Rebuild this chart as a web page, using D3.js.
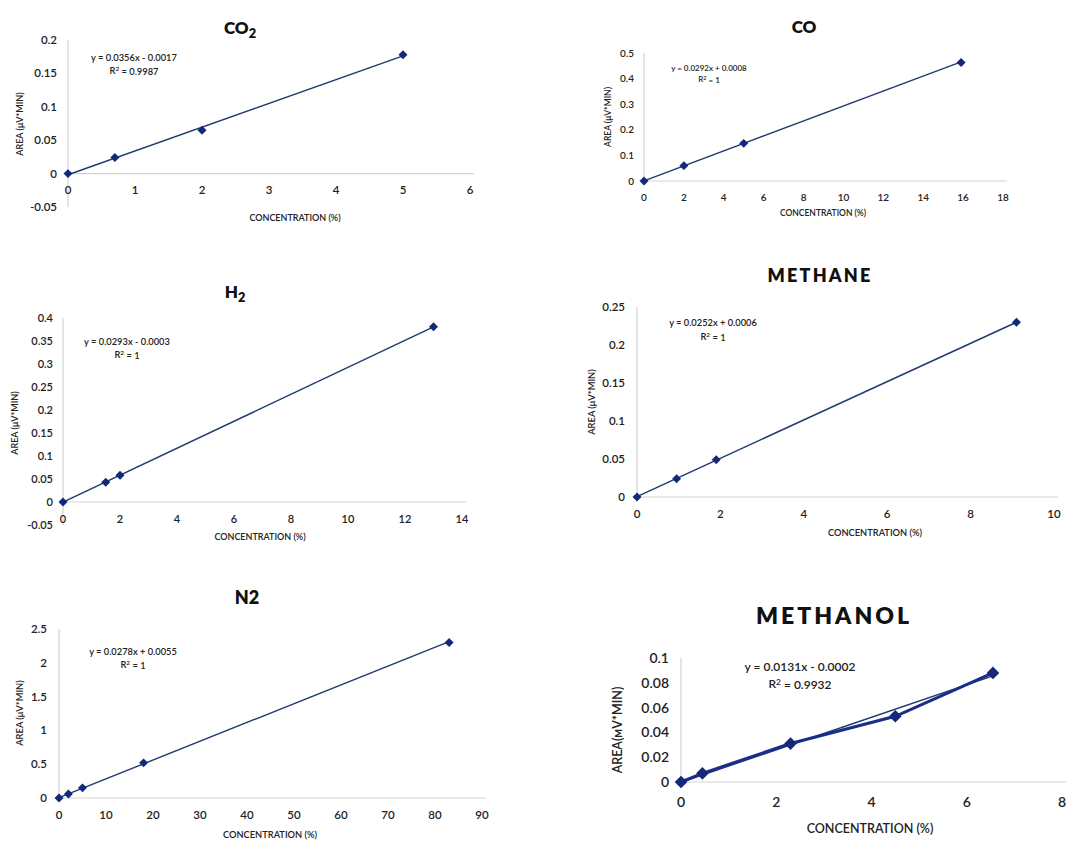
<!DOCTYPE html>
<html><head><meta charset="utf-8">
<script src="https://cdn.jsdelivr.net/npm/d3@7"></script>
<style>body{margin:0;background:#fff}text{font-family:Lato,"Liberation Sans",sans-serif;fill:#222}</style>
</head><body><svg id="c" width="1068" height="842"></svg>
<script>
// ---- data ----
const co2X = [0, 0.7, 2, 5];
const co2Y = [0, 0.024, 0.065, 0.178];
const coX = [0, 2, 5, 15.9];
const coY = [0, 0.06, 0.147, 0.463];
const h2X = [0, 1.5, 2, 13];
const h2Y = [0, 0.043, 0.058, 0.381];
const ch4X = [0, 0.95, 1.9, 9.1];
const ch4Y = [0, 0.024, 0.049, 0.23];
const n2X = [0, 2, 5, 18, 83];
const n2Y = [0, 0.06, 0.15, 0.52, 2.3];
const meohX = [0, 0.45, 2.3, 4.5, 6.55];
const meohY = [0, 0.007, 0.031, 0.053, 0.088];
// trend-line coefficients [slope, intercept]
const co2Fit = [0.0356, -0.0017], coFit = [0.0292, 0.0008], h2Fit = [0.0293, -0.0003];
const ch4Fit = [0.0252, 0.0006], n2Fit = [0.0278, 0.0055], meohFit = [0.0131, -0.0002];
const co2Eq = ["y = 0.0356x - 0.0017", "0.9987"];
const coEq = ["y = 0.0292x + 0.0008", "1"];
const h2Eq = ["y = 0.0293x - 0.0003", "1"];
const ch4Eq = ["y = 0.0252x + 0.0006", "1"];
const n2Eq = ["y = 0.0278x + 0.0055", "1"];
const meohEq = ["y = 0.0131x - 0.0002", "0.9932"];
// tick values
const co2XT = [0,1,2,3,4,5,6], co2YT = [-0.05,0,0.05,0.1,0.15,0.2];
const coXT = [0,2,4,6,8,10,12,14,16,18], coYT = [0,0.1,0.2,0.3,0.4,0.5];
const h2XT = [0,2,4,6,8,10,12,14], h2YT = [-0.05,0,0.05,0.1,0.15,0.2,0.25,0.3,0.35,0.4];
const ch4XT = [0,2,4,6,8,10], ch4YT = [0,0.05,0.1,0.15,0.2,0.25];
const n2XT = [0,10,20,30,40,50,60,70,80,90], n2YT = [0,0.5,1,1.5,2,2.5];
const meohXT = [0,2,4,6,8], meohYT = [0,0.02,0.04,0.06,0.08,0.1];

const svg = d3.select("#c");
const fmt = v => String(+v.toFixed(3));

function panel(o){
  const g = svg.append("g");
  const x = d3.scaleLinear().domain(o.xd).range(o.xr);
  const y = d3.scaleLinear().domain(o.yd).range(o.yr);
  g.append("line").attr("x1",x(o.xd[0])).attr("x2",o.xr[1]+4).attr("y1",y(0)).attr("y2",y(0)).attr("stroke","#d4d4d4").attr("stroke-width",1.2);
  g.append("line").attr("x1",x(0)).attr("x2",x(0)).attr("y1",y(o.yd[0])).attr("y2",y(o.yd[1])).attr("stroke","#d4d4d4").attr("stroke-width",1.2);
  g.selectAll(".yt").data(o.yt).join("text").attr("x",x(0)-o.ygap).attr("y",d=>y(d)).attr("dy","0.35em")
    .attr("text-anchor","end").style("font-size",o.tfs+"px").style("font-weight",600).text(fmt);
  g.selectAll(".xt").data(o.xt).join("text").attr("x",d=>x(d)).attr("y",y(0)+o.xgap).attr("dy","0.35em")
    .attr("text-anchor","middle").style("font-size",o.tfs+"px").style("font-weight",600).text(fmt);
  const t = g.append("text").attr("x",o.title[0]).attr("y",o.title[1]).attr("text-anchor","middle")
    .style("font-size",o.titleFs+"px").style("font-weight",800).style("letter-spacing",(o.ls||0)+"px").style("fill","#111");
  t.append("tspan").text(o.titleText);
  if(o.sub) t.append("tspan").attr("dy","0.3em").style("font-size",(o.titleFs*0.75)+"px").text(o.sub);
  g.append("text").attr("x",o.xTitle[0]).attr("y",o.xTitle[1]).attr("text-anchor","middle")
    .style("font-size",o.atfs+"px").style("font-weight",600).text("CONCENTRATION (%)");
  g.append("text").attr("transform",`translate(${o.yTitle[0]},${o.yTitle[1]}) rotate(-90)`).attr("text-anchor","middle")
    .attr("dy","0.35em").style("font-size",o.atfs+"px").style("font-weight",600).text(o.yTitleText||"AREA (\u03BCV*MIN)");
  const xmax = d3.max(o.xs);
  g.append("line").attr("x1",x(0)).attr("y1",y(o.fit[1])).attr("x2",x(xmax)).attr("y2",y(o.fit[0]*xmax+o.fit[1]))
    .attr("stroke","#1f3a6e").attr("stroke-width",o.tw||1.4);
  if(o.connect){
    g.append("path").datum(o.xs.map((v,i)=>[v,o.ys[i]]))
      .attr("d",d3.line().x(d=>x(d[0])).y(d=>y(d[1]))).attr("fill","none").attr("stroke","#1a2d8a").attr("stroke-width",3);
  }
  g.selectAll(".m").data(o.xs.map((v,i)=>[v,o.ys[i]])).join("path")
    .attr("transform",d=>`translate(${x(d[0])},${y(d[1])}) rotate(45)`)
    .attr("d",d3.symbol(d3.symbolSquare,o.ms||40)).attr("fill","#14287a");
  const e = g.append("text").attr("x",o.eq[0]).attr("y",o.eq[1]).attr("text-anchor","middle")
    .style("font-size",o.efs+"px").style("font-weight",600);
  e.text(o.eqText[0]);
  const r = g.append("text").attr("x",o.eq[0]).attr("y",o.eq[1]+o.eqGap).attr("text-anchor","middle")
    .style("font-size",o.efs+"px").style("font-weight",600);
  r.append("tspan").text("R");
  r.append("tspan").attr("dy","-0.4em").style("font-size",(o.efs*0.7)+"px").text("2");
  r.append("tspan").attr("dy","0.4em").text(" = "+o.eqText[1]);
}

panel({xs:co2X,ys:co2Y,fit:co2Fit,eqText:co2Eq,xt:co2XT,yt:co2YT,xd:[0,6],xr:[68,470],yd:[-0.05,0.2],yr:[207,40],
  title:[240,34],titleText:"CO",sub:"2",titleFs:17,xTitle:[295,221],yTitle:[20,124],eq:[134,61],eqGap:13,
  tfs:11.5,efs:9.3,atfs:9,ygap:11,xgap:16});
panel({xs:coX,ys:coY,fit:coFit,eqText:coEq,xt:coXT,yt:coYT,xd:[0,18],xr:[644,1003],yd:[0,0.5],yr:[181,53],
  title:[804,33],titleText:"CO",titleFs:17,xTitle:[823,216],yTitle:[608,117],eq:[709,71],eqGap:11,
  tfs:10,efs:8,atfs:8.5,ygap:10,xgap:16});
panel({xs:h2X,ys:h2Y,fit:h2Fit,eqText:h2Eq,xt:h2XT,yt:h2YT,xd:[0,14],xr:[63,462],yd:[-0.05,0.4],yr:[525,318],
  title:[235,298],titleText:"H",sub:"2",titleFs:17,xTitle:[260,540],yTitle:[15,423],eq:[127,345],eqGap:13,
  tfs:11,efs:9.3,atfs:9,ygap:10,xgap:17});
panel({xs:ch4X,ys:ch4Y,fit:ch4Fit,eqText:ch4Eq,xt:ch4XT,yt:ch4YT,xd:[0,10],xr:[637,1054],yd:[0,0.25],yr:[497,307],
  title:[820,282],titleText:"METHANE",titleFs:18,ls:2.2,xTitle:[875,536],yTitle:[592,402],eq:[713,326],eqGap:14,
  tfs:11.5,efs:9.3,atfs:9.3,ygap:12,xgap:17});
panel({xs:n2X,ys:n2Y,fit:n2Fit,eqText:n2Eq,xt:n2XT,yt:n2YT,xd:[0,90],xr:[59,482],yd:[0,2.5],yr:[798,629],
  title:[247,604],titleText:"N2",titleFs:18,xTitle:[270,838],yTitle:[20,713],eq:[133,655],eqGap:13,
  tfs:11.5,efs:9.3,atfs:9.3,ygap:12,xgap:17});
panel({xs:meohX,ys:meohY,fit:meohFit,eqText:meohEq,xt:meohXT,yt:meohYT,xd:[0,8],xr:[681,1062],yd:[0,0.1],yr:[782,658],
  title:[834,624],titleText:"METHANOL",titleFs:23,ls:3,xTitle:[870,833],yTitle:[618,730],eq:[800,671],eqGap:17,
  tfs:14,efs:12,atfs:12.5,ygap:12,xgap:20,connect:true,ms:80,tw:1.5,yTitleText:"AREA(\u1D0DV*MIN)"});
</script></body></html>
